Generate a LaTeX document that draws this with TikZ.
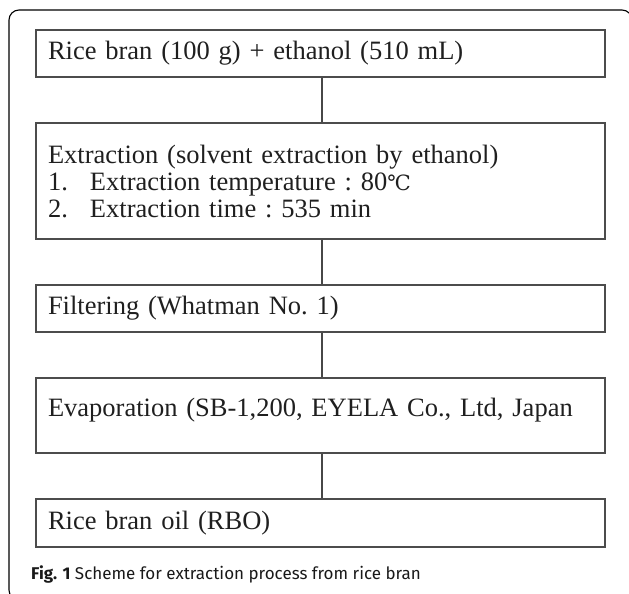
\documentclass[tikz,border=0pt]{standalone}
\usepackage{fontspec}
\setmainfont{Liberation Serif}
\setsansfont{Fira Sans}
\newfontfamily\degfont{DejaVu Serif}
\begin{document}
\begin{tikzpicture}[x=1pt,y=-1pt,
  stepbox/.style={draw=black!70, line width=1.5pt, minimum width=569pt, text width=545pt,
    inner xsep=12pt, inner ysep=0pt, align=left, text=black!88,
    font=\frenchspacing\fontsize{26.5}{27}\selectfont},
  link/.style={draw=black!72, line width=1.2pt}]
\useasboundingbox (0,0) rectangle (629,594);
\begin{scope}
\clip (0,0) rectangle (629,594);
\draw[line width=1.1pt, rounded corners=10pt] (9,10) rectangle (632,600);
\end{scope}
\node[stepbox, minimum height=47pt] (b1) at (320.5,53.5) {Rice bran (100 g) + ethanol (510 mL)};
\node[stepbox, minimum height=116pt] (b2) at (320.5,181) {Extraction (solvent extraction by ethanol)\\
\makebox[42pt][l]{1.}Extraction temperature : 80{\degfont\fontsize{21}{24}\selectfont ℃}\\
\makebox[42pt][l]{2.}Extraction time : 535 min};
\node[stepbox, minimum height=47pt] (b3) at (320.5,308.5) {Filtering (Whatman No. 1)};
\node[stepbox, minimum height=75pt] (b4) at (320.5,415.5) {Evaporation (SB-1,200, EYELA Co., Ltd, Japan\\[-10pt]\mbox{}};
\node[stepbox, minimum height=48pt] (b5) at (320.5,523) {Rice bran oil (RBO)};
\draw[link] (b1.south -| 322,0) -- (b2.north -| 322,0);
\draw[link] (b2.south -| 322,0) -- (b3.north -| 322,0);
\draw[link] (b3.south -| 322,0) -- (b4.north -| 322,0);
\draw[link] (b4.south -| 322,0) -- (b5.north -| 322,0);
\node[anchor=base west, inner sep=0pt, font=\sffamily\fontsize{17}{20}\selectfont, text=black!90] (cap) at (31,579) {\textbf{Fig. 1} Scheme for extraction process from rice bran};
\end{tikzpicture}
\end{document}
